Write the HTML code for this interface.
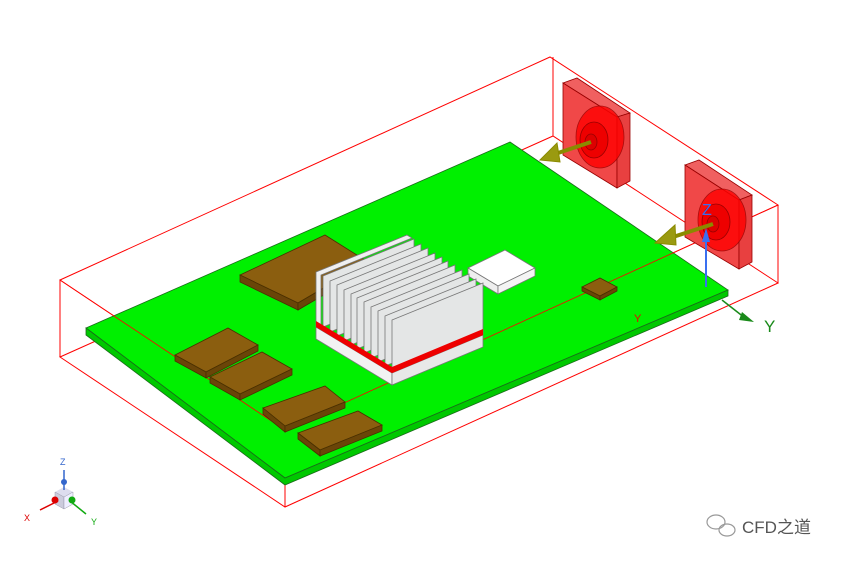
<!DOCTYPE html><html><head><style>body{margin:0;background:#fff}svg{display:block}</style></head><body>
<svg width="850" height="563" viewBox="0 0 850 563" xmlns="http://www.w3.org/2000/svg" font-family="Liberation Sans, sans-serif">
<g stroke="#f00" stroke-width="1" fill="none">
<polygon points="60,280 550,57 778,205 285,430"/>
<polygon points="60,357 553,136 778,283 285,507"/>
<line x1="60" y1="280" x2="60" y2="357"/><line x1="553" y1="57" x2="553" y2="136"/>
<line x1="778" y1="205" x2="778" y2="283"/><line x1="285" y1="430" x2="285" y2="507"/>
</g>
<!-- board -->
<polygon points="86,328 510,142 728,290 285,478" fill="#00f000" stroke="#1a6a1a" stroke-width="0.8"/>
<polygon points="86,328 285,478 728,290 728,296 285,485 86,335" fill="#00c800" stroke="#1a6a1a" stroke-width="0.8"/>
<line x1="86" y1="328" x2="728" y2="296" stroke="none"/>
<line x1="120" y1="372" x2="680" y2="250" stroke="#f00" stroke-width="0.8" opacity="0"/>
<line x1="285" y1="430" x2="778" y2="205" stroke="#f00" stroke-width="0.8"/>
<line x1="60" y1="280" x2="285" y2="430" stroke="#f00" stroke-width="0.8"/>
<!-- chips -->
<g stroke="#4a3000" stroke-width="0.8">
<polygon points="240,275 325,235 368,262 298,303" fill="#8b5e0f"/><polygon points="240,275 298,303 298,310 240,282" fill="#6a4508"/><polygon points="298,303 368,262 368,269 298,310" fill="#6a4508"/>
<polygon points="175,355 228,328 258,345 206,372" fill="#8b5e0f"/><polygon points="175,355 206,372 206,378 175,361" fill="#6a4508"/><polygon points="206,372 258,345 258,351 206,378" fill="#6a4508"/>
<polygon points="210,377 262,352 292,369 240,394" fill="#8b5e0f"/><polygon points="210,377 240,394 240,400 210,383" fill="#6a4508"/><polygon points="240,394 292,369 292,375 240,400" fill="#6a4508"/>
<polygon points="263,408 325,386 345,402 285,426" fill="#8b5e0f"/><polygon points="263,408 285,426 285,432 263,414" fill="#6a4508"/><polygon points="285,426 345,402 345,408 285,432" fill="#6a4508"/>
<polygon points="298,433 358,411 382,425 320,450" fill="#8b5e0f"/><polygon points="298,433 320,450 320,456 298,439" fill="#6a4508"/><polygon points="320,450 382,425 382,431 320,456" fill="#6a4508"/>
<polygon points="582,287 600,278 617,287 600,296" fill="#8b5e0f"/><polygon points="582,287 600,296 600,300 582,291" fill="#6a4508"/><polygon points="600,296 617,287 617,291 600,300" fill="#6a4508"/>
</g>
<g stroke="#777" stroke-width="0.8">
<polygon points="468,268 505,250 535,268 498,286" fill="#fff"/><polygon points="468,268 498,286 498,294 468,276" fill="#eee"/><polygon points="498,286 535,268 535,276 498,294" fill="#f4f4f4"/>
</g>
<!-- heatsink -->
<g stroke="#777" stroke-width="0.8">
<polygon points="316,327 392,373 392,385 316,339" fill="#f2f2f2"/>
<polygon points="392,373 483,335 483,347 392,385" fill="#e8e8e8"/>
<polygon points="316,321 392,367 392,373 316,327" fill="#e00" stroke="none"/>
<polygon points="392,367 483,329 483,335 392,373" fill="#e00" stroke="none"/>
<polygon points="316,272 407,235 412,238 321,275 321,330 316,327" fill="#f0f0f0"/>
<polygon points="323,276 414,239 414,290 323,327" fill="#e4e6e6"/>
<polygon points="330,281 421,244 421,295 330,332" fill="#e4e6e6"/>
<polygon points="337,285 428,248 428,299 337,336" fill="#e4e6e6"/>
<polygon points="344,290 435,253 435,304 344,341" fill="#e4e6e6"/>
<polygon points="351,294 442,257 442,308 351,345" fill="#e4e6e6"/>
<polygon points="357,298 448,261 448,312 357,349" fill="#e4e6e6"/>
<polygon points="364,302 455,265 455,316 364,353" fill="#e4e6e6"/>
<polygon points="371,307 462,270 462,321 371,358" fill="#e4e6e6"/>
<polygon points="378,311 469,274 469,325 378,362" fill="#e4e6e6"/>
<polygon points="385,316 476,279 476,330 385,366" fill="#e4e6e6"/>
<polygon points="392,320 483,283 483,334 392,372" fill="#e4e6e6"/>
</g>
<polygon points="316,327 392,373 483,335 483,329 392,367 316,321" fill="#e00"/>
<!-- fans -->
<g stroke="#900" stroke-width="0.8">
<polygon points="563,83 577,78 630,113 617,117" fill="#f06060"/>
<polygon points="563,83 617,117 617,188 563,155" fill="#f04848"/>
<polygon points="617,117 630,113 630,181 617,188" fill="#e84040"/>
<ellipse cx="600" cy="137" rx="24" ry="31" fill="#f00" opacity="0.8"/><ellipse cx="594" cy="140" rx="14" ry="18" fill="#e00"/><ellipse cx="591" cy="142" rx="6" ry="8" fill="#d00"/>
<polygon points="685,165 699,160 752,195 739,200" fill="#f06060"/>
<polygon points="685,165 739,200 739,269 685,237" fill="#f04848"/>
<polygon points="739,200 752,195 752,262 739,269" fill="#e84040"/>
<ellipse cx="722" cy="220" rx="24" ry="31" fill="#f00" opacity="0.8"/><ellipse cx="716" cy="222" rx="14" ry="18" fill="#e00"/><ellipse cx="713" cy="224" rx="6" ry="8" fill="#d00"/>
</g>
<g stroke="#8a8a00" stroke-width="4" fill="#9a9a10">
<line x1="591" y1="142" x2="552" y2="155"/><polygon points="540,160 557,143 560,162" stroke-width="1"/>
<line x1="713" y1="224" x2="673" y2="237"/><polygon points="655,243 675,225 676,245" stroke-width="1"/>
</g>
<line x1="706" y1="287" x2="706" y2="235" stroke="#3a6ff0" stroke-width="2"/><polygon points="702,242 706,228 710,242" fill="#3a6ff0"/>
<text x="702" y="215" font-size="16" fill="#3a6ff0">Z</text>
<line x1="722" y1="300" x2="745" y2="318" stroke="#1a8a1a" stroke-width="1.5"/><polygon points="742,312 754,322 739,320" fill="#1a8a1a"/>
<text x="764" y="332" font-size="17" fill="#1a8a1a">Y</text>
<text x="634" y="322" font-size="11" fill="#e00">Y</text>
<!-- triad -->
<g>
<polygon points="55,492 64,487 73,492 64,497" fill="#dde"/><polygon points="55,492 64,497 64,509 55,504" fill="#ccd" stroke="#99a" stroke-width="0.5"/><polygon points="64,497 73,492 73,504 64,509" fill="#eef" stroke="#99a" stroke-width="0.5"/>
<line x1="64" y1="490" x2="64" y2="470" stroke="#36c" stroke-width="1.5"/><circle cx="64" cy="482" r="3" fill="#36c"/>
<text x="60" y="465" font-size="9" fill="#36c">Z</text>
<line x1="58" y1="501" x2="40" y2="510" stroke="#d00" stroke-width="1.5"/><circle cx="55" cy="500" r="3.5" fill="#d00"/>
<text x="24" y="521" font-size="9" fill="#d00">X</text>
<line x1="70" y1="501" x2="86" y2="514" stroke="#1a1" stroke-width="1.5"/><circle cx="72" cy="500" r="3.5" fill="#1a1"/>
<text x="91" y="525" font-size="9" fill="#1a1">Y</text>
</g>
<g fill="none" stroke="#999" stroke-width="1.2"><ellipse cx="716" cy="522" rx="9" ry="7"/><ellipse cx="727" cy="530" rx="8" ry="6"/></g>
<text x="742" y="533" font-size="17" fill="#555" font-family="Liberation Sans, Noto Sans CJK SC, sans-serif">CFD之道</text>
</svg>
</body></html>
